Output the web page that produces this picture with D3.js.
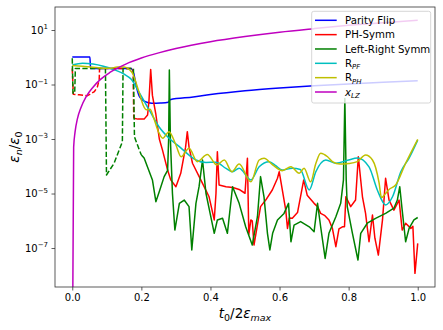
<!DOCTYPE html>
<html>
<head>
<meta charset="utf-8">
<script src="https://cdn.jsdelivr.net/npm/d3@7/dist/d3.min.js"></script>
<style>
body{margin:0;background:#fff;}
text{font-family:"DejaVu Sans",sans-serif;fill:#000;}
</style>
</head>
<body>
<div id="chart"></div>
<script>
// values are [t0/2emax, log10(en/e0)]

var xTicks = [0, 0.2, 0.4, 0.6, 0.8, 1.0];
var yTicks = [1, -1, -3, -5, -7];

var parityFlip = [[0,0.01],[0.051,0.01],[0.053,-0.41],[0.17,-0.41],[0.178,-0.6],[0.186,-1.1],[0.195,-1.45],[0.21,-1.62],[0.23,-1.69],[0.255,-1.68],[0.278,-1.65],[0.283,-1.56],[0.35,-1.46],[0.4,-1.37],[0.5,-1.23],[0.6,-1.13],[0.7,-1.05],[0.8,-0.98],[0.9,-0.92],[1.0,-0.86]];

var phDashed = [[0,-0.41],[0.003,-1.36],[0.02,-1.38],[0.044,-1.41],[0.064,-1.26],[0.073,-1.08],[0.078,-0.81],[0.079,-0.41],[0.176,-0.41],[0.178,-2.24]];
var phSolid = [[0.178,-2.24],[0.19,-2.27],[0.208,-2.27],[0.218,-2.12],[0.222,-1.6],[0.227,-0.45],[0.232,-1.4],[0.242,-2.1],[0.252,-3.0],[0.261,-3.4],[0.276,-4.14],[0.285,-4.5],[0.3,-4.75],[0.314,-4.26],[0.328,-3.3],[0.333,-2.73],[0.338,-3.3],[0.348,-3.89],[0.372,-4.5],[0.396,-5.12],[0.411,-5.97],[0.416,-5.0],[0.42,-3.47],[0.425,-4.69],[0.445,-4.75],[0.465,-4.78],[0.483,-4.85],[0.5,-4.99],[0.507,-3.71],[0.511,-6.5],[0.517,-5.97],[0.521,-6.0],[0.526,-6.89],[0.535,-6.22],[0.545,-5.48],[0.56,-5.24],[0.579,-4.87],[0.594,-4.44],[0.599,-4.2],[0.608,-4.87],[0.618,-5.61],[0.623,-6.28],[0.628,-5.9],[0.637,-5.91],[0.652,-5.7],[0.67,-4.5],[0.68,-5.06],[0.7,-5.36],[0.71,-5.48],[0.719,-5.73],[0.73,-5.8],[0.743,-5.97],[0.753,-6.28],[0.763,-6.95],[0.772,-6.3],[0.782,-6.22],[0.788,-6.22],[0.792,-5.12],[0.806,-5.48],[0.82,-5.24],[0.828,-3.65],[0.84,-5.12],[0.849,-5.73],[0.859,-6.77],[0.869,-5.79],[0.876,-6.64],[0.886,-7.26],[0.898,-5.97],[0.907,-4.44],[0.917,-5.24],[0.931,-5.61],[0.946,-5.24],[0.955,-6.34],[0.965,-6.09],[0.98,-6.28],[0.986,-6.2],[0.992,-7.93],[1.0,-6.83]];

var lrDashed = [[0,-0.04],[0.002,-1.32],[0.007,-1.32],[0.009,-0.41],[0.096,-0.41],[0.099,-4.32],[0.121,-3.89],[0.145,-3.1],[0.147,-0.41],[0.177,-0.41],[0.18,-2.92],[0.194,-3.4],[0.2,-3.59]];
var lrSolid = [[0.2,-3.59],[0.208,-3.7],[0.22,-4.1],[0.232,-4.5],[0.242,-5.3],[0.252,-4.93],[0.266,-4.38],[0.276,-4.15],[0.279,-3.0],[0.281,-0.47],[0.284,-3.0],[0.29,-5.0],[0.297,-6.34],[0.31,-5.36],[0.324,-5.24],[0.338,-5.48],[0.346,-7.07],[0.358,-5.36],[0.367,-4.75],[0.377,-3.77],[0.387,-4.99],[0.401,-5.85],[0.411,-6.46],[0.42,-5.97],[0.435,-5.91],[0.449,-6.46],[0.464,-4.75],[0.483,-5.36],[0.502,-6.22],[0.521,-6.89],[0.536,-5.85],[0.545,-4.38],[0.555,-5.12],[0.565,-6.46],[0.572,-7.07],[0.58,-6.46],[0.594,-5.97],[0.613,-5.73],[0.626,-5.36],[0.633,-6.77],[0.642,-6.16],[0.661,-6.03],[0.686,-6.22],[0.7,-6.4],[0.71,-5.36],[0.719,-6.22],[0.732,-7.38],[0.743,-6.46],[0.763,-5.85],[0.777,-5.36],[0.785,-4.5],[0.789,-1.51],[0.793,-4.5],[0.796,-5.48],[0.811,-6.46],[0.827,-7.44],[0.835,-6.46],[0.854,-6.09],[0.878,-5.91],[0.907,-5.73],[0.931,-5.54],[0.941,-5.24],[0.948,-4.75],[0.955,-5.61],[0.965,-6.77],[0.975,-6.28],[0.989,-5.97],[1.0,-5.88]];

var rPF = [[0,-0.28],[0.03,-0.22],[0.06,-0.25],[0.09,-0.33],[0.12,-0.45],[0.15,-0.62],[0.17,-0.8],[0.194,-1.3],[0.223,-1.94],[0.251,-2.55],[0.281,-2.98],[0.31,-3.28],[0.338,-3.59],[0.358,-3.77],[0.387,-3.86],[0.416,-3.85],[0.445,-4.08],[0.464,-4.2],[0.483,-4.07],[0.517,-4.5],[0.541,-4.02],[0.57,-3.83],[0.589,-3.98],[0.608,-4.14],[0.637,-4.07],[0.66,-4.12],[0.686,-4.87],[0.705,-4.2],[0.734,-3.77],[0.763,-3.89],[0.8,-3.77],[0.825,-3.7],[0.859,-4.02],[0.883,-4.87],[0.907,-5.42],[0.927,-5.12],[0.951,-4.2],[0.975,-3.7],[1.0,-3.04]];

var rPH = [[0,-0.3],[0.03,-0.33],[0.06,-0.37],[0.09,-0.4],[0.11,-0.4],[0.13,-0.36],[0.15,-0.36],[0.165,-0.45],[0.175,-0.6],[0.185,-0.95],[0.195,-1.35],[0.205,-1.75],[0.215,-1.93],[0.225,-1.91],[0.235,-2.2],[0.25,-2.75],[0.262,-2.97],[0.28,-2.73],[0.3,-3.22],[0.315,-3.65],[0.338,-3.34],[0.362,-3.83],[0.391,-3.57],[0.418,-3.95],[0.44,-3.77],[0.462,-4.2],[0.483,-3.92],[0.517,-4.57],[0.541,-3.77],[0.555,-3.71],[0.58,-3.95],[0.608,-4.16],[0.633,-4.02],[0.657,-4.26],[0.671,-4.07],[0.69,-4.57],[0.705,-3.9],[0.719,-3.52],[0.739,-3.65],[0.753,-3.83],[0.775,-3.92],[0.8,-3.9],[0.825,-3.83],[0.849,-3.59],[0.869,-3.77],[0.888,-4.6],[0.895,-5.15],[0.907,-5.0],[0.917,-4.85],[0.936,-4.69],[0.965,-3.89],[1.0,-3.01]];

// first point is zero in the original, clipped on the log axis
var xLZ = [[0,-12],[0.004,-3.3],[0.008,-2.75],[0.015,-2.25],[0.025,-1.85],[0.04,-1.45],[0.06,-1.1],[0.08,-0.83],[0.11,-0.55],[0.155,-0.25],[0.2,-0.03],[0.25,0.16],[0.3,0.32],[0.4,0.57],[0.5,0.76],[0.6,0.92],[0.7,1.05],[0.8,1.17],[0.9,1.27],[1.0,1.36]];

var svgWidth = 443;
var svgHeight = 330;
var padL = 55, padR = 435, padT = 7, padB = 287;

var svg = d3.select("#chart").append("svg")
    .attr("width", svgWidth)
    .attr("height", svgHeight);

var xScale = d3.scaleLinear()
    .domain([-0.05, 1.05])
    .range([padL, padR]);

var yScale = d3.scaleLog()
    .domain([Math.pow(10,-8.43), Math.pow(10,1.844)])
    .range([padB, padT]);

svg.append("defs").append("clipPath")
    .attr("id", "plotclip")
    .append("rect")
    .attr("x", padL).attr("y", padT)
    .attr("width", padR-padL).attr("height", padB-padT);

var plot = svg.append("g").attr("clip-path", "url(#plotclip)");

var drawLine = function(data, color, dashed, smooth){
    var line = d3.line()
	.x(function(d){ return xScale(d[0]); })
	.y(function(d){ return yScale(Math.pow(10, d[1])); })
	.curve(smooth ? d3.curveMonotoneX : d3.curveLinear);

    var path = plot.append("path")
	.datum(data)
	.attr("d", line)
	.attr("fill", "none")
	.attr("stroke", color)
	.attr("stroke-width", 1.5)
	.attr("stroke-linejoin", "round");
    if(dashed){
	path.attr("stroke-dasharray", "5.3,2.3");
    }
};

drawLine(parityFlip, "#0000ff", false, true);
drawLine(phDashed, "#ff0000", true, false);
drawLine(phSolid, "#ff0000", false, false);
drawLine(lrDashed, "#008000", true, false);
drawLine(lrSolid, "#008000", false, false);
drawLine(rPF, "#00bfbf", false, true);
drawLine(rPH, "#bfbf00", false, true);
drawLine(xLZ, "#bf00bf", false, true);

// axes
var xAxis = d3.axisBottom(xScale)
    .tickValues(xTicks)
    .tickSize(3.5)
    .tickPadding(3.5)
    .tickFormat(d3.format(".1f"));

var gx = svg.append("g")
    .attr("transform", "translate(0," + padB + ")")
    .call(xAxis);
gx.select(".domain").remove();
gx.selectAll("line").attr("stroke", "#333").attr("stroke-width", 0.8);
gx.selectAll("text").style("font-size", "10px").style("font-family", "DejaVu Sans");

var yAxis = d3.axisLeft(yScale)
    .tickValues(yTicks.map(function(e){ return Math.pow(10, e); }))
    .tickSize(3.5)
    .tickFormat("");

var gy = svg.append("g")
    .attr("transform", "translate(" + padL + ",0)")
    .call(yAxis);
gy.select(".domain").remove();
gy.selectAll("line").attr("stroke", "#333").attr("stroke-width", 0.8);

for(i=0; i<yTicks.length; i++){
    var t = svg.append("text")
	.attr("x", padL - 7)
	.attr("y", yScale(Math.pow(10, yTicks[i])) + 3.6)
	.attr("text-anchor", "end")
	.style("font-size", "10px");
    t.append("tspan").text("10");
    t.append("tspan")
	.attr("dy", -4.2)
	.style("font-size", "7px")
	.text(yTicks[i] < 0 ? "\u2212" + Math.abs(yTicks[i]) : yTicks[i]);
}

svg.append("rect")
    .attr("x", padL).attr("y", padT)
    .attr("width", padR-padL).attr("height", padB-padT)
    .attr("fill", "none")
    .attr("stroke", "#333")
    .attr("stroke-width", 0.8);

// axis labels
var xl = svg.append("text")
    .attr("x", (padL+padR)/2)
    .attr("y", 318)
    .attr("text-anchor", "middle")
    .style("font-size", "13.5px")
    .style("font-style", "italic");
xl.append("tspan").text("t");
xl.append("tspan").attr("dy", 3).style("font-size", "9.5px").style("font-style", "normal").text("0");
xl.append("tspan").attr("dy", -3).style("font-style", "normal").text("/2");
xl.append("tspan").text("\u03b5");
xl.append("tspan").attr("dy", 3).style("font-size", "9.5px").text("max");

var yl = svg.append("text")
    .attr("transform", "translate(19," + ((padT+padB)/2) + ") rotate(-90)")
    .attr("text-anchor", "middle")
    .style("font-size", "13.5px")
    .style("font-style", "italic");
yl.append("tspan").text("\u03b5");
yl.append("tspan").attr("dy", 3).style("font-size", "9.5px").text("n");
yl.append("tspan").attr("dy", -3).style("font-style", "normal").text("/");
yl.append("tspan").text("\u03b5");
yl.append("tspan").attr("dy", 3).style("font-size", "9.5px").style("font-style", "normal").text("0");

// legend
var legendNames = ["Parity Flip", "PH-Symm", "Left-Right Symm", "R|PF", "R|PH", "x|LZ"];
var legendColors = ["#0000ff", "#ff0000", "#008000", "#00bfbf", "#bfbf00", "#bf00bf"];

var lg = svg.append("g");
lg.append("rect")
    .attr("x", 311.7).attr("y", 11.3)
    .attr("width", 119).attr("height", 91.7)
    .attr("rx", 2)
    .attr("fill", "#fff")
    .attr("fill-opacity", 0.8)
    .attr("stroke", "#cccccc")
    .attr("stroke-width", 0.8);

for(i=0; i<legendNames.length; i++){
    var ly = 20.3 + i*14.34;
    lg.append("line")
	.attr("x1", 315).attr("x2", 336.7)
	.attr("y1", ly).attr("y2", ly)
	.attr("stroke", legendColors[i])
	.attr("stroke-width", 1.5);
    var parts = legendNames[i].split("|");
    var lt = lg.append("text")
	.attr("x", 345)
	.attr("y", ly + 3.6)
	.style("font-size", "10.2px");
    if(parts.length == 1){
	lt.text(parts[0]);
    }else{
	var main = lt.append("tspan").text(parts[0]);
	if(parts[0] == "x"){ main.style("font-style", "italic"); }
	lt.append("tspan")
	    .attr("dy", 2.5)
	    .style("font-size", "7px")
	    .style("font-style", "italic")
	    .text(parts[1]);
    }
}
</script>
</body>
</html>
